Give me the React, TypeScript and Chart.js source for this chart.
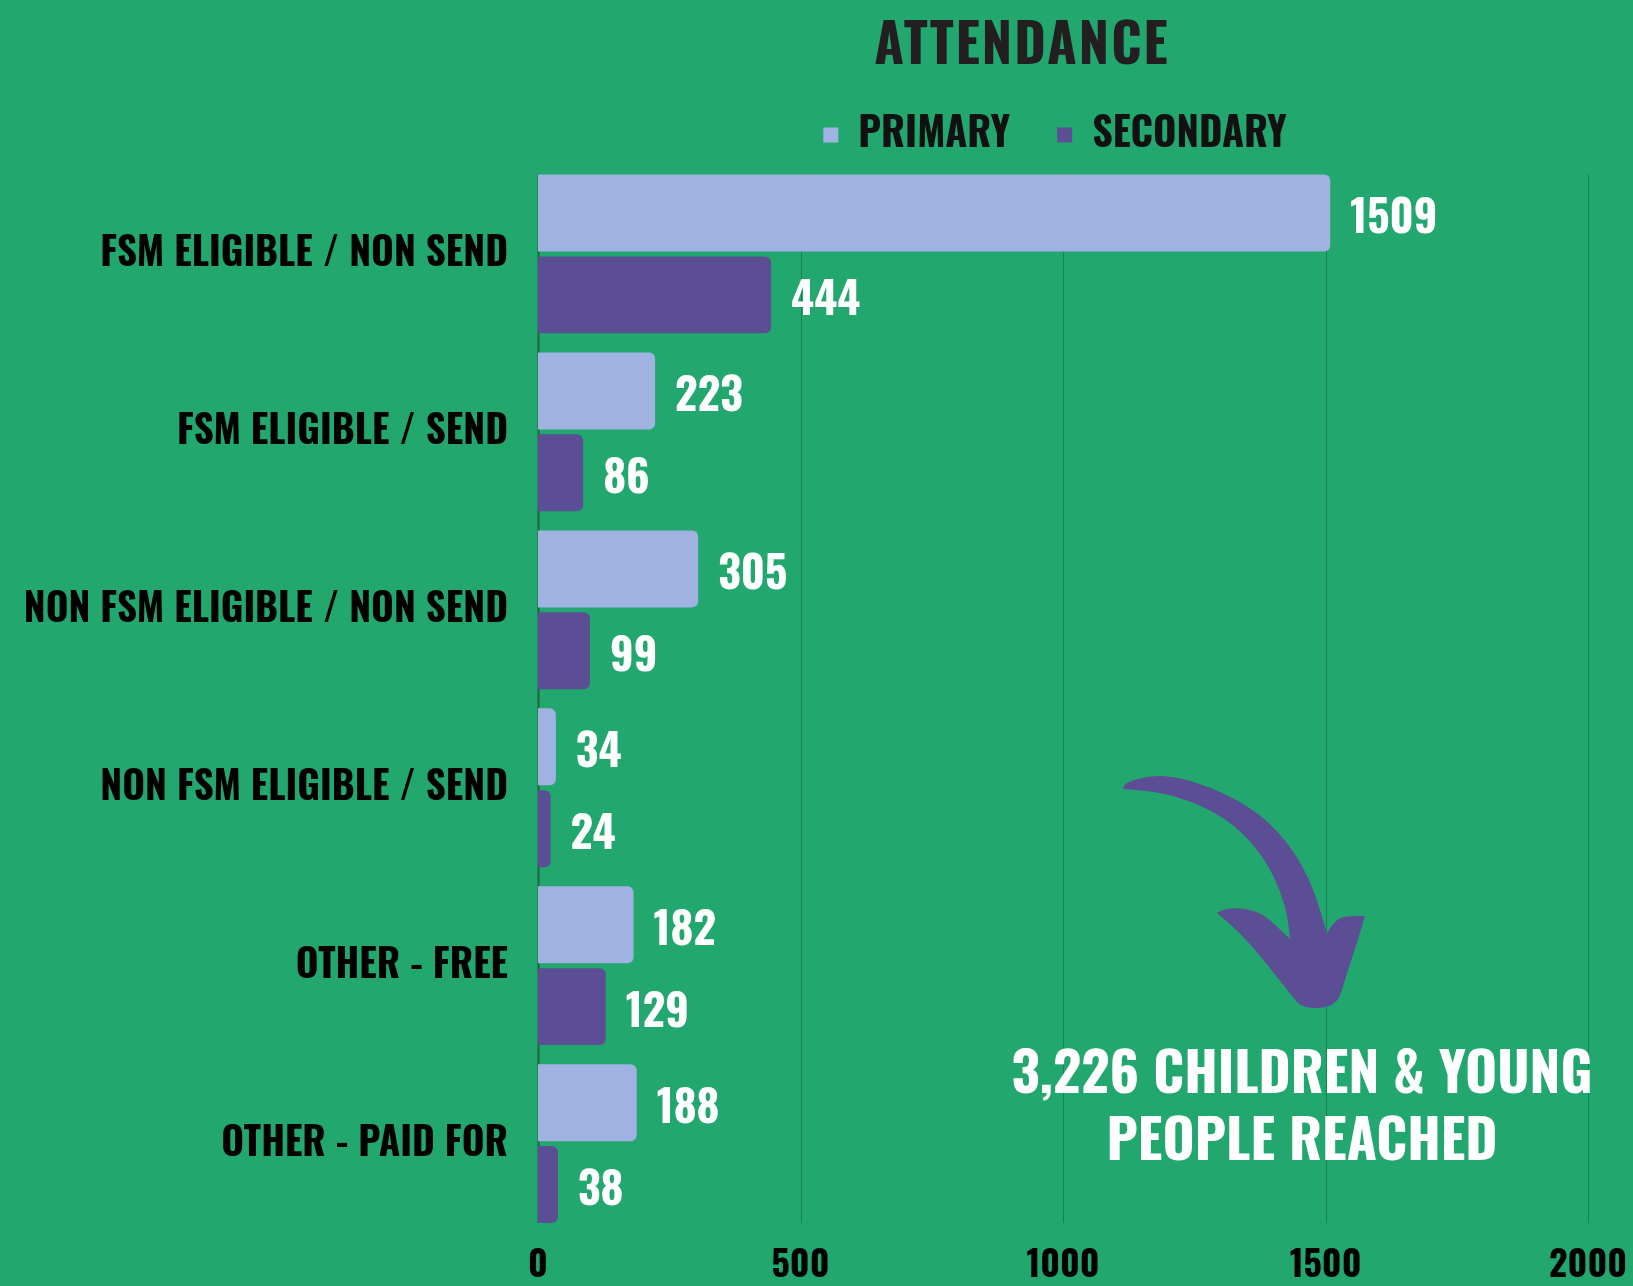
import React, { useEffect, useRef } from "react";
import { Chart, registerables } from "chart.js";

Chart.register(...registerables);

const categories = [
  "FSM ELIGIBLE / NON SEND",
  "FSM ELIGIBLE / SEND",
  "NON FSM ELIGIBLE / NON SEND",
  "NON FSM ELIGIBLE / SEND",
  "OTHER - FREE",
  "OTHER - PAID FOR",
];
const primaryValues = [1509, 223, 305, 34, 182, 188];
const secondaryValues = [444, 86, 99, 24, 129, 38];
const xTickValues = [0, 500, 1000, 1500, 2000];
const seriesNames = ["PRIMARY", "SECONDARY"];
const titleText = "ATTENDANCE";
const noteLines = ["3,226 CHILDREN & YOUNG", "PEOPLE REACHED"];

const FONT = "Oswald, 'Open Sans Condensed', 'Roboto Condensed', 'DejaVu Sans Condensed', sans-serif";
const BG = "#22a76e";
const PRIMARY_COLOR = "#a0b2e1";
const SECONDARY_COLOR = "#5b4e94";
const GRID_COLOR = "rgba(0,60,30,0.35)";
const AXIS_COLOR = "#1a6545";

// decorative arrow outline, split into smooth segments (pixel coordinates)
const arrowSegments: [number, number][][] = [
  [[1123, 789], [1123, 785], [1133, 780], [1153, 775.5], [1177, 777], [1210, 787], [1243, 803], [1270, 823], [1293, 850], [1310, 880], [1320, 910], [1327, 933]],
  [[1327, 933], [1333, 923], [1343, 916], [1365, 916]],
  [[1365, 916], [1357, 943], [1347, 973], [1340, 997], [1333, 1005], [1320, 1008.5], [1302, 1007], [1295, 1000], [1277, 977], [1257, 952], [1237, 930], [1217, 913]],
  [[1217, 913], [1223, 909], [1237, 908], [1253, 910], [1267, 917], [1290, 939]],
  [[1290, 939], [1288, 917], [1280, 890], [1267, 863], [1247, 837], [1223, 817], [1193, 802], [1160, 792], [1123, 789]],
];

const decorPlugin = {
  id: "decor",
  afterLayout(chart: any) {
    // the reference legend sits slightly left of the plot centre
    const lg = chart.legend;
    if (lg) {
      lg.left -= 8;
      lg.right -= 8;
    }
  },
  beforeDraw(chart: any) {
    const { ctx, width, height } = chart;
    ctx.save();
    ctx.fillStyle = BG;
    ctx.fillRect(0, 0, width, height);
    ctx.restore();
  },
  beforeDatasetsDraw(chart: any) {
    // vertical grid lines spanning the bars, placed with the x scale
    const { ctx } = chart;
    const xs = chart.scales.x;
    const first = chart.getDatasetMeta(0).data[0].getProps(["y", "height"], true);
    const lastMeta = chart.getDatasetMeta(chart.data.datasets.length - 1);
    const last = lastMeta.data[lastMeta.data.length - 1].getProps(["y", "height"], true);
    const top = first.y - first.height / 2;
    const bottom = last.y + last.height / 2;
    ctx.save();
    xTickValues.forEach((v) => {
      const px = Math.round(xs.getPixelForValue(v)) + 0.5;
      ctx.strokeStyle = v === 0 ? AXIS_COLOR : GRID_COLOR;
      ctx.lineWidth = v === 0 ? 2 : 1;
      ctx.beginPath();
      ctx.moveTo(px, top);
      ctx.lineTo(px, bottom);
      ctx.stroke();
    });
    ctx.restore();
  },
  afterDatasetsDraw(chart: any) {
    const { ctx } = chart;
    ctx.save();
    ctx.fillStyle = "#ffffff";
    ctx.font = `bold 44px ${FONT}`;
    ctx.textAlign = "left";
    ctx.textBaseline = "middle";
    chart.data.datasets.forEach((ds: any, di: number) => {
      const meta = chart.getDatasetMeta(di);
      meta.data.forEach((bar: any, i: number) => {
        const p = bar.getProps(["x", "y"], true);
        ctx.fillText(String(ds.data[i]), p.x + 20, p.y + 7);
      });
    });
    ctx.restore();
  },
  afterDraw(chart: any) {
    const { ctx } = chart;
    ctx.save();
    ctx.fillStyle = "#231f20";
    ctx.font = `bold 54px ${FONT}`;
    ctx.textAlign = "center";
    ctx.textBaseline = "middle";
    (ctx as any).letterSpacing = "2px";
    ctx.fillText(titleText, 1022, 48);
    (ctx as any).letterSpacing = "0px";

    ctx.fillStyle = SECONDARY_COLOR;
    ctx.beginPath();
    arrowSegments.forEach((seg, si) => {
      if (si === 0) ctx.moveTo(seg[0][0], seg[0][1]);
      else ctx.lineTo(seg[0][0], seg[0][1]);
      for (let i = 1; i < seg.length - 1; i++) {
        const mx = (seg[i][0] + seg[i + 1][0]) / 2;
        const my = (seg[i][1] + seg[i + 1][1]) / 2;
        ctx.quadraticCurveTo(seg[i][0], seg[i][1], mx, my);
      }
      const l = seg[seg.length - 1];
      ctx.lineTo(l[0], l[1]);
    });
    ctx.closePath();
    ctx.fill();

    ctx.fillStyle = "#ffffff";
    ctx.font = `bold 55px ${FONT}`;
    ctx.fillText(noteLines[0], 1302, 1076);
    ctx.fillText(noteLines[1], 1302, 1143);
    ctx.restore();
  },
};

export default function App() {
  const ref = useRef<HTMLCanvasElement | null>(null);
  useEffect(() => {
    document.body.style.margin = "0";
    const canvas = ref.current;
    if (!canvas) return;
    const barStyle = {
      borderRadius: 6,
      borderSkipped: "start",
      categoryPercentage: 0.92,
      barPercentage: 0.94,
    };
    const chart = new Chart(canvas, {
      type: "bar",
      data: {
        labels: categories,
        datasets: [
          { label: seriesNames[0], data: primaryValues, backgroundColor: PRIMARY_COLOR, ...barStyle },
          { label: seriesNames[1], data: secondaryValues, backgroundColor: SECONDARY_COLOR, ...barStyle },
        ],
      },
      options: {
        indexAxis: "y",
        responsive: false,
        maintainAspectRatio: false,
        animation: false,
        layout: { padding: { top: 68, right: 43, left: 0, bottom: 0 } },
        plugins: {
          title: { display: false },
          tooltip: { enabled: false },
          legend: {
            display: true,
            position: "top",
            fullSize: false,
            labels: {
              boxWidth: 15,
              boxHeight: 15,
              padding: 47,
              color: "#111111",
              font: { family: FONT, size: 40, weight: "bold" },
            },
          },
        },
        scales: {
          x: {
            min: 0,
            max: 2000,
            afterBuildTicks: (s: any) => {
              s.ticks = xTickValues.map((v) => ({ value: v }));
            },
            ticks: {
              color: "#000000",
              padding: 6,
              font: { family: FONT, size: 36, weight: "bold", lineHeight: 1.53 },
              callback: (v: any) => String(v),
            },
            grid: { display: false, drawTicks: false },
            border: { display: false },
            afterFit: (s: any) => {
              s.height = 53;
            },
          },
          y: {
            ticks: {
              color: "#000000",
              padding: 30,
              font: { family: FONT, size: 39, weight: "bold" },
            },
            grid: { display: false, drawTicks: false },
            border: { display: false },
            afterFit: (s: any) => {
              s.width = 538;
            },
          },
        },
      },
      plugins: [decorPlugin],
    } as any);
    return () => chart.destroy();
  }, []);
  return (
    <div style={{ width: 1633, height: 1286, background: BG }}>
      <canvas ref={ref} width={1633} height={1286} style={{ display: "block" }} />
    </div>
  );
}
